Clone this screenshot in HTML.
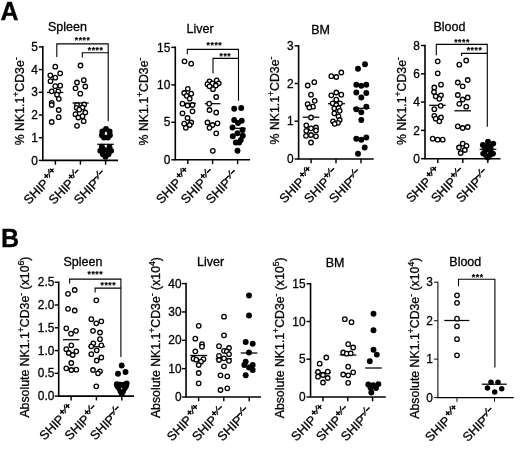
<!DOCTYPE html>
<html lang="en">
<head>
<meta charset="utf-8">
<title>NK cell frequencies in SHIP mice</title>
<style>html,body{margin:0;padding:0;background:#fff}svg{display:block;filter:blur(0.35px)}text{font-family:"Liberation Sans", Arial, Helvetica, sans-serif;stroke:#000;stroke-width:0.3px;paint-order:stroke}</style>
</head>
<body>
<svg width="520" height="450" viewBox="0 0 520 450" font-family='"Liberation Sans", Arial, Helvetica, sans-serif' fill="#000">
<rect width="520" height="450" fill="#fff"/>
<text x="0.6" y="20" font-size="25" font-weight="bold">A</text>
<text x="0.9" y="246.8" font-size="25" font-weight="bold">B</text>
<path d="M42.80 46.10V160.40H118.00" fill="none" stroke="#000" stroke-width="1.6" stroke-linejoin="miter"/>
<line x1="38.80" y1="46.90" x2="42.80" y2="46.90" stroke="#000" stroke-width="1.44"/>
<text x="37.75" y="51.01" font-size="11.9" text-anchor="end">5</text>
<line x1="38.80" y1="69.60" x2="42.80" y2="69.60" stroke="#000" stroke-width="1.44"/>
<text x="37.75" y="73.71" font-size="11.9" text-anchor="end">4</text>
<line x1="38.80" y1="92.30" x2="42.80" y2="92.30" stroke="#000" stroke-width="1.44"/>
<text x="37.75" y="96.41" font-size="11.9" text-anchor="end">3</text>
<line x1="38.80" y1="115.00" x2="42.80" y2="115.00" stroke="#000" stroke-width="1.44"/>
<text x="37.75" y="119.11" font-size="11.9" text-anchor="end">2</text>
<line x1="38.80" y1="137.70" x2="42.80" y2="137.70" stroke="#000" stroke-width="1.44"/>
<text x="37.75" y="141.81" font-size="11.9" text-anchor="end">1</text>
<line x1="38.80" y1="160.40" x2="42.80" y2="160.40" stroke="#000" stroke-width="1.44"/>
<text x="37.75" y="164.51" font-size="11.9" text-anchor="end">0</text>
<line x1="55.40" y1="160.40" x2="55.40" y2="164.70" stroke="#000" stroke-width="1.44"/>
<line x1="80.40" y1="160.40" x2="80.40" y2="164.70" stroke="#000" stroke-width="1.44"/>
<line x1="105.60" y1="160.40" x2="105.60" y2="164.70" stroke="#000" stroke-width="1.44"/>
<text x="67.5" y="30.5" font-size="12.5" text-anchor="middle">Spleen</text>
<text transform="translate(23.5 101.3) rotate(-90)" font-size="12.3" text-anchor="middle">% NK1.1<tspan font-size="8.61" dy="-4.8">+</tspan><tspan dy="4.8">CD3e</tspan><tspan font-size="8.61" dy="-4.8">-</tspan></text>
<line x1="47.0" y1="92.5" x2="63.3" y2="92.5" stroke="#000" stroke-width="1.25"/>
<line x1="72.5" y1="103.0" x2="88.7" y2="103.0" stroke="#000" stroke-width="1.25"/>
<circle cx="55.3" cy="66.7" r="2.25" fill="#fff" stroke="#000" stroke-width="1.3"/>
<circle cx="60.2" cy="73.3" r="2.25" fill="#fff" stroke="#000" stroke-width="1.3"/>
<circle cx="50.3" cy="75.3" r="2.25" fill="#fff" stroke="#000" stroke-width="1.3"/>
<circle cx="55.3" cy="77.7" r="2.25" fill="#fff" stroke="#000" stroke-width="1.3"/>
<circle cx="50.5" cy="81.2" r="2.25" fill="#fff" stroke="#000" stroke-width="1.3"/>
<circle cx="60.2" cy="85.7" r="2.25" fill="#fff" stroke="#000" stroke-width="1.3"/>
<circle cx="55.3" cy="86.2" r="2.25" fill="#fff" stroke="#000" stroke-width="1.3"/>
<circle cx="51.7" cy="91.3" r="2.25" fill="#fff" stroke="#000" stroke-width="1.3"/>
<circle cx="58.3" cy="91.3" r="2.25" fill="#fff" stroke="#000" stroke-width="1.3"/>
<circle cx="57.0" cy="94.7" r="2.25" fill="#fff" stroke="#000" stroke-width="1.3"/>
<circle cx="58.8" cy="98.8" r="2.25" fill="#fff" stroke="#000" stroke-width="1.3"/>
<circle cx="51.7" cy="102.8" r="2.25" fill="#fff" stroke="#000" stroke-width="1.3"/>
<circle cx="51.7" cy="105.0" r="2.25" fill="#fff" stroke="#000" stroke-width="1.3"/>
<circle cx="58.7" cy="110.0" r="2.25" fill="#fff" stroke="#000" stroke-width="1.3"/>
<circle cx="58.7" cy="117.2" r="2.25" fill="#fff" stroke="#000" stroke-width="1.3"/>
<circle cx="51.7" cy="122.0" r="2.25" fill="#fff" stroke="#000" stroke-width="1.3"/>
<circle cx="80.5" cy="65.5" r="2.25" fill="#fff" stroke="#000" stroke-width="1.3"/>
<circle cx="83.8" cy="80.2" r="2.25" fill="#fff" stroke="#000" stroke-width="1.3"/>
<circle cx="77.0" cy="82.5" r="2.25" fill="#fff" stroke="#000" stroke-width="1.3"/>
<circle cx="85.3" cy="86.5" r="2.25" fill="#fff" stroke="#000" stroke-width="1.3"/>
<circle cx="75.5" cy="88.3" r="2.25" fill="#fff" stroke="#000" stroke-width="1.3"/>
<circle cx="80.3" cy="93.7" r="2.25" fill="#fff" stroke="#000" stroke-width="1.3"/>
<circle cx="77.0" cy="105.0" r="2.25" fill="#fff" stroke="#000" stroke-width="1.3"/>
<circle cx="84.2" cy="104.5" r="2.25" fill="#fff" stroke="#000" stroke-width="1.3"/>
<circle cx="76.7" cy="107.8" r="2.25" fill="#fff" stroke="#000" stroke-width="1.3"/>
<circle cx="82.5" cy="107.5" r="2.25" fill="#fff" stroke="#000" stroke-width="1.3"/>
<circle cx="79.2" cy="109.7" r="2.25" fill="#fff" stroke="#000" stroke-width="1.3"/>
<circle cx="85.3" cy="112.5" r="2.25" fill="#fff" stroke="#000" stroke-width="1.3"/>
<circle cx="75.5" cy="114.2" r="2.25" fill="#fff" stroke="#000" stroke-width="1.3"/>
<circle cx="82.5" cy="116.2" r="2.25" fill="#fff" stroke="#000" stroke-width="1.3"/>
<circle cx="78.3" cy="117.5" r="2.25" fill="#fff" stroke="#000" stroke-width="1.3"/>
<circle cx="83.7" cy="121.2" r="2.25" fill="#fff" stroke="#000" stroke-width="1.3"/>
<circle cx="77.0" cy="125.8" r="2.25" fill="#fff" stroke="#000" stroke-width="1.3"/>
<circle cx="106.0" cy="128.9" r="2.95" fill="#000"/>
<circle cx="102.3" cy="131.4" r="2.95" fill="#000"/>
<circle cx="109.6" cy="131.4" r="2.95" fill="#000"/>
<circle cx="101.9" cy="135.3" r="2.95" fill="#000"/>
<circle cx="109.9" cy="135.3" r="2.95" fill="#000"/>
<circle cx="104.0" cy="137.5" r="2.95" fill="#000"/>
<circle cx="107.9" cy="137.5" r="2.95" fill="#000"/>
<circle cx="101.9" cy="146.6" r="2.95" fill="#000"/>
<circle cx="109.5" cy="147.1" r="2.95" fill="#000"/>
<circle cx="100.3" cy="150.7" r="2.95" fill="#000"/>
<circle cx="111.1" cy="150.7" r="2.95" fill="#000"/>
<circle cx="103.9" cy="149.7" r="2.95" fill="#000"/>
<circle cx="108.0" cy="150.7" r="2.95" fill="#000"/>
<circle cx="102.9" cy="154.3" r="2.95" fill="#000"/>
<circle cx="108.5" cy="154.3" r="2.95" fill="#000"/>
<circle cx="105.5" cy="156.8" r="2.95" fill="#000"/>
<circle cx="106" cy="133.6" r="0.7" fill="#fff"/>
<line x1="97.3" y1="144.3" x2="113.8" y2="144.3" stroke="#000" stroke-width="1.25"/>
<path d="M56.8 57.1V43.9H108.2V121.3" fill="none" stroke="#000" stroke-width="1.1"/>
<path d="M82.3 57.4V52.8H108.2" fill="none" stroke="#000" stroke-width="1.1"/>
<text x="82.6" y="42.7" font-size="8.6" font-weight="bold" text-anchor="middle" letter-spacing="0.55" style="stroke-width:0.2px">****</text>
<text x="95.6" y="53.2" font-size="8.6" font-weight="bold" text-anchor="middle" letter-spacing="0.55" style="stroke-width:0.2px">****</text>
<g transform="translate(49.55 184.25) rotate(-45)"><text font-size="12.6" text-anchor="end">SHIP</text><text x="0.90" y="-5.2" font-size="9.07" style="stroke-width:0.6px">+</text><text x="5.95" y="-4.2" font-size="10.89" style="stroke-width:0.35px" transform="rotate(22 7.46 -8.19)">/</text><text x="8.72" y="-5.2" font-size="9.07" style="stroke-width:0.6px">+</text></g>
<g transform="translate(74.55 184.25) rotate(-45)"><text font-size="12.6" text-anchor="end">SHIP</text><text x="0.00" y="-5.2" font-size="9.07" style="stroke-width:0.6px">+</text><text x="5.05" y="-4.2" font-size="10.89" style="stroke-width:0.35px" transform="rotate(22 6.56 -8.19)">/</text><text x="7.82" y="-4.6000000000000005" font-size="9.07" style="stroke-width:0.6px">−</text></g>
<g transform="translate(99.75 184.25) rotate(-45)"><text font-size="12.6" text-anchor="end">SHIP</text><text x="-1.60" y="-4.6000000000000005" font-size="9.07" style="stroke-width:0.6px">−</text><text x="3.45" y="-4.2" font-size="10.89" style="stroke-width:0.35px" transform="rotate(22 4.96 -8.19)">/</text><text x="6.22" y="-4.6000000000000005" font-size="9.07" style="stroke-width:0.6px">−</text></g>
<path d="M175.30 46.60V159.80H250.00" fill="none" stroke="#000" stroke-width="1.6" stroke-linejoin="miter"/>
<line x1="171.30" y1="47.40" x2="175.30" y2="47.40" stroke="#000" stroke-width="1.44"/>
<text x="170.25" y="51.51" font-size="11.9" text-anchor="end">15</text>
<line x1="171.30" y1="84.90" x2="175.30" y2="84.90" stroke="#000" stroke-width="1.44"/>
<text x="170.25" y="89.01" font-size="11.9" text-anchor="end">10</text>
<line x1="171.30" y1="122.30" x2="175.30" y2="122.30" stroke="#000" stroke-width="1.44"/>
<text x="170.25" y="126.41" font-size="11.9" text-anchor="end">5</text>
<line x1="171.30" y1="159.80" x2="175.30" y2="159.80" stroke="#000" stroke-width="1.44"/>
<text x="170.25" y="163.91" font-size="11.9" text-anchor="end">0</text>
<line x1="187.80" y1="159.80" x2="187.80" y2="164.10" stroke="#000" stroke-width="1.44"/>
<line x1="212.60" y1="159.80" x2="212.60" y2="164.10" stroke="#000" stroke-width="1.44"/>
<line x1="237.60" y1="159.80" x2="237.60" y2="164.10" stroke="#000" stroke-width="1.44"/>
<text x="200.0" y="33.2" font-size="12.5" text-anchor="middle">Liver</text>
<text transform="translate(148.0 101.5) rotate(-90)" font-size="12.3" text-anchor="middle">% NK1.1<tspan font-size="8.61" dy="-4.8">+</tspan><tspan dy="4.8">CD3e</tspan><tspan font-size="8.61" dy="-4.8">-</tspan></text>
<line x1="180.0" y1="103.3" x2="195.8" y2="103.3" stroke="#000" stroke-width="1.25"/>
<line x1="204.7" y1="103.7" x2="220.3" y2="103.7" stroke="#000" stroke-width="1.25"/>
<circle cx="184.5" cy="61.3" r="2.25" fill="#fff" stroke="#000" stroke-width="1.3"/>
<circle cx="191.2" cy="63.7" r="2.25" fill="#fff" stroke="#000" stroke-width="1.3"/>
<circle cx="187.8" cy="88.8" r="2.25" fill="#fff" stroke="#000" stroke-width="1.3"/>
<circle cx="184.2" cy="93.0" r="2.25" fill="#fff" stroke="#000" stroke-width="1.3"/>
<circle cx="191.2" cy="93.7" r="2.25" fill="#fff" stroke="#000" stroke-width="1.3"/>
<circle cx="186.7" cy="95.8" r="2.25" fill="#fff" stroke="#000" stroke-width="1.3"/>
<circle cx="189.7" cy="98.7" r="2.25" fill="#fff" stroke="#000" stroke-width="1.3"/>
<circle cx="182.5" cy="103.7" r="2.25" fill="#fff" stroke="#000" stroke-width="1.3"/>
<circle cx="187.5" cy="105.5" r="2.25" fill="#fff" stroke="#000" stroke-width="1.3"/>
<circle cx="192.5" cy="105.0" r="2.25" fill="#fff" stroke="#000" stroke-width="1.3"/>
<circle cx="192.5" cy="111.3" r="2.25" fill="#fff" stroke="#000" stroke-width="1.3"/>
<circle cx="182.5" cy="113.3" r="2.25" fill="#fff" stroke="#000" stroke-width="1.3"/>
<circle cx="187.5" cy="118.0" r="2.25" fill="#fff" stroke="#000" stroke-width="1.3"/>
<circle cx="191.2" cy="122.5" r="2.25" fill="#fff" stroke="#000" stroke-width="1.3"/>
<circle cx="184.2" cy="123.7" r="2.25" fill="#fff" stroke="#000" stroke-width="1.3"/>
<circle cx="189.7" cy="125.0" r="2.25" fill="#fff" stroke="#000" stroke-width="1.3"/>
<circle cx="185.8" cy="127.8" r="2.25" fill="#fff" stroke="#000" stroke-width="1.3"/>
<circle cx="209.5" cy="81.3" r="2.25" fill="#fff" stroke="#000" stroke-width="1.3"/>
<circle cx="216.7" cy="80.3" r="2.25" fill="#fff" stroke="#000" stroke-width="1.3"/>
<circle cx="207.5" cy="84.2" r="2.25" fill="#fff" stroke="#000" stroke-width="1.3"/>
<circle cx="218.8" cy="83.3" r="2.25" fill="#fff" stroke="#000" stroke-width="1.3"/>
<circle cx="212.5" cy="83.3" r="2.25" fill="#fff" stroke="#000" stroke-width="1.3"/>
<circle cx="209.5" cy="86.3" r="2.25" fill="#fff" stroke="#000" stroke-width="1.3"/>
<circle cx="215.8" cy="85.5" r="2.25" fill="#fff" stroke="#000" stroke-width="1.3"/>
<circle cx="213.0" cy="89.2" r="2.25" fill="#fff" stroke="#000" stroke-width="1.3"/>
<circle cx="216.2" cy="97.0" r="2.25" fill="#fff" stroke="#000" stroke-width="1.3"/>
<circle cx="209.2" cy="103.7" r="2.25" fill="#fff" stroke="#000" stroke-width="1.3"/>
<circle cx="209.5" cy="110.0" r="2.25" fill="#fff" stroke="#000" stroke-width="1.3"/>
<circle cx="216.2" cy="112.5" r="2.25" fill="#fff" stroke="#000" stroke-width="1.3"/>
<circle cx="207.5" cy="122.5" r="2.25" fill="#fff" stroke="#000" stroke-width="1.3"/>
<circle cx="217.5" cy="123.3" r="2.25" fill="#fff" stroke="#000" stroke-width="1.3"/>
<circle cx="212.5" cy="125.0" r="2.25" fill="#fff" stroke="#000" stroke-width="1.3"/>
<circle cx="209.5" cy="127.8" r="2.25" fill="#fff" stroke="#000" stroke-width="1.3"/>
<circle cx="216.2" cy="133.3" r="2.25" fill="#fff" stroke="#000" stroke-width="1.3"/>
<circle cx="212.8" cy="150.8" r="2.25" fill="#fff" stroke="#000" stroke-width="1.3"/>
<circle cx="234.2" cy="108.7" r="2.95" fill="#000"/>
<circle cx="241.2" cy="108.0" r="2.95" fill="#000"/>
<circle cx="234.2" cy="120.0" r="2.95" fill="#000"/>
<circle cx="241.7" cy="120.8" r="2.95" fill="#000"/>
<circle cx="238.0" cy="123.0" r="2.95" fill="#000"/>
<circle cx="232.5" cy="127.5" r="2.95" fill="#000"/>
<circle cx="242.5" cy="130.0" r="2.95" fill="#000"/>
<circle cx="237.5" cy="133.3" r="2.95" fill="#000"/>
<circle cx="232.8" cy="136.3" r="2.95" fill="#000"/>
<circle cx="242.8" cy="135.8" r="2.95" fill="#000"/>
<circle cx="240.8" cy="140.0" r="2.95" fill="#000"/>
<circle cx="235.8" cy="142.5" r="2.95" fill="#000"/>
<circle cx="239.2" cy="142.5" r="2.95" fill="#000"/>
<circle cx="237.5" cy="150.8" r="2.95" fill="#000"/>
<line x1="230.8" y1="128.3" x2="245.8" y2="128.3" stroke="#000" stroke-width="1.25"/>
<path d="M187.3 54.2V49.4H238.5V100.8" fill="none" stroke="#000" stroke-width="1.1"/>
<path d="M213.0 73.5V58.4H238.5" fill="none" stroke="#000" stroke-width="1.1"/>
<text x="214.4" y="47.5" font-size="8.6" font-weight="bold" text-anchor="middle" letter-spacing="0.55" style="stroke-width:0.2px">****</text>
<text x="225.4" y="59.3" font-size="8.6" font-weight="bold" text-anchor="middle" letter-spacing="0.55" style="stroke-width:0.2px">***</text>
<g transform="translate(181.95 183.65) rotate(-45)"><text font-size="12.6" text-anchor="end">SHIP</text><text x="0.90" y="-5.2" font-size="9.07" style="stroke-width:0.6px">+</text><text x="5.95" y="-4.2" font-size="10.89" style="stroke-width:0.35px" transform="rotate(22 7.46 -8.19)">/</text><text x="8.72" y="-5.2" font-size="9.07" style="stroke-width:0.6px">+</text></g>
<g transform="translate(206.75 183.65) rotate(-45)"><text font-size="12.6" text-anchor="end">SHIP</text><text x="0.00" y="-5.2" font-size="9.07" style="stroke-width:0.6px">+</text><text x="5.05" y="-4.2" font-size="10.89" style="stroke-width:0.35px" transform="rotate(22 6.56 -8.19)">/</text><text x="7.82" y="-4.6000000000000005" font-size="9.07" style="stroke-width:0.6px">−</text></g>
<g transform="translate(231.75 183.65) rotate(-45)"><text font-size="12.6" text-anchor="end">SHIP</text><text x="-1.60" y="-4.6000000000000005" font-size="9.07" style="stroke-width:0.6px">−</text><text x="3.45" y="-4.2" font-size="10.89" style="stroke-width:0.35px" transform="rotate(22 4.96 -8.19)">/</text><text x="6.22" y="-4.6000000000000005" font-size="9.07" style="stroke-width:0.6px">−</text></g>
<path d="M298.60 45.00V159.00H373.70" fill="none" stroke="#000" stroke-width="1.6" stroke-linejoin="miter"/>
<line x1="294.60" y1="45.80" x2="298.60" y2="45.80" stroke="#000" stroke-width="1.44"/>
<text x="293.55" y="49.91" font-size="11.9" text-anchor="end">3</text>
<line x1="294.60" y1="83.50" x2="298.60" y2="83.50" stroke="#000" stroke-width="1.44"/>
<text x="293.55" y="87.61" font-size="11.9" text-anchor="end">2</text>
<line x1="294.60" y1="121.20" x2="298.60" y2="121.20" stroke="#000" stroke-width="1.44"/>
<text x="293.55" y="125.31" font-size="11.9" text-anchor="end">1</text>
<line x1="294.60" y1="159.00" x2="298.60" y2="159.00" stroke="#000" stroke-width="1.44"/>
<text x="293.55" y="163.11" font-size="11.9" text-anchor="end">0</text>
<line x1="311.10" y1="159.00" x2="311.10" y2="163.30" stroke="#000" stroke-width="1.44"/>
<line x1="336.00" y1="159.00" x2="336.00" y2="163.30" stroke="#000" stroke-width="1.44"/>
<line x1="361.00" y1="159.00" x2="361.00" y2="163.30" stroke="#000" stroke-width="1.44"/>
<text x="320.5" y="33.6" font-size="12.5" text-anchor="middle">BM</text>
<text transform="translate(279.2 100.5) rotate(-90)" font-size="12.3" text-anchor="middle">% NK1.1<tspan font-size="8.61" dy="-4.8">+</tspan><tspan dy="4.8">CD3e</tspan><tspan font-size="8.61" dy="-4.8">-</tspan></text>
<line x1="302.7" y1="117.2" x2="319.3" y2="117.2" stroke="#000" stroke-width="1.25"/>
<line x1="328.0" y1="103.7" x2="345.0" y2="103.7" stroke="#000" stroke-width="1.25"/>
<line x1="353.0" y1="108.3" x2="369.7" y2="108.3" stroke="#000" stroke-width="1.25"/>
<circle cx="314.3" cy="82.2" r="2.25" fill="#fff" stroke="#000" stroke-width="1.3"/>
<circle cx="307.7" cy="85.5" r="2.25" fill="#fff" stroke="#000" stroke-width="1.3"/>
<circle cx="311.0" cy="94.7" r="2.25" fill="#fff" stroke="#000" stroke-width="1.3"/>
<circle cx="314.7" cy="100.8" r="2.25" fill="#fff" stroke="#000" stroke-width="1.3"/>
<circle cx="307.7" cy="104.2" r="2.25" fill="#fff" stroke="#000" stroke-width="1.3"/>
<circle cx="313.0" cy="106.7" r="2.25" fill="#fff" stroke="#000" stroke-width="1.3"/>
<circle cx="309.3" cy="107.5" r="2.25" fill="#fff" stroke="#000" stroke-width="1.3"/>
<circle cx="311.0" cy="117.5" r="2.25" fill="#fff" stroke="#000" stroke-width="1.3"/>
<circle cx="306.3" cy="125.3" r="2.25" fill="#fff" stroke="#000" stroke-width="1.3"/>
<circle cx="316.0" cy="127.5" r="2.25" fill="#fff" stroke="#000" stroke-width="1.3"/>
<circle cx="311.0" cy="128.3" r="2.25" fill="#fff" stroke="#000" stroke-width="1.3"/>
<circle cx="316.0" cy="130.5" r="2.25" fill="#fff" stroke="#000" stroke-width="1.3"/>
<circle cx="306.3" cy="130.8" r="2.25" fill="#fff" stroke="#000" stroke-width="1.3"/>
<circle cx="311.0" cy="135.0" r="2.25" fill="#fff" stroke="#000" stroke-width="1.3"/>
<circle cx="306.0" cy="135.8" r="2.25" fill="#fff" stroke="#000" stroke-width="1.3"/>
<circle cx="316.0" cy="136.3" r="2.25" fill="#fff" stroke="#000" stroke-width="1.3"/>
<circle cx="311.0" cy="142.5" r="2.25" fill="#fff" stroke="#000" stroke-width="1.3"/>
<circle cx="341.3" cy="72.5" r="2.25" fill="#fff" stroke="#000" stroke-width="1.3"/>
<circle cx="331.3" cy="76.2" r="2.25" fill="#fff" stroke="#000" stroke-width="1.3"/>
<circle cx="336.3" cy="77.0" r="2.25" fill="#fff" stroke="#000" stroke-width="1.3"/>
<circle cx="336.3" cy="92.5" r="2.25" fill="#fff" stroke="#000" stroke-width="1.3"/>
<circle cx="331.3" cy="95.3" r="2.25" fill="#fff" stroke="#000" stroke-width="1.3"/>
<circle cx="341.3" cy="94.7" r="2.25" fill="#fff" stroke="#000" stroke-width="1.3"/>
<circle cx="336.3" cy="99.7" r="2.25" fill="#fff" stroke="#000" stroke-width="1.3"/>
<circle cx="332.7" cy="103.3" r="2.25" fill="#fff" stroke="#000" stroke-width="1.3"/>
<circle cx="340.0" cy="103.3" r="2.25" fill="#fff" stroke="#000" stroke-width="1.3"/>
<circle cx="336.3" cy="105.0" r="2.25" fill="#fff" stroke="#000" stroke-width="1.3"/>
<circle cx="334.3" cy="108.3" r="2.25" fill="#fff" stroke="#000" stroke-width="1.3"/>
<circle cx="338.5" cy="108.0" r="2.25" fill="#fff" stroke="#000" stroke-width="1.3"/>
<circle cx="339.7" cy="110.8" r="2.25" fill="#fff" stroke="#000" stroke-width="1.3"/>
<circle cx="334.3" cy="113.3" r="2.25" fill="#fff" stroke="#000" stroke-width="1.3"/>
<circle cx="338.5" cy="116.3" r="2.25" fill="#fff" stroke="#000" stroke-width="1.3"/>
<circle cx="339.7" cy="120.0" r="2.25" fill="#fff" stroke="#000" stroke-width="1.3"/>
<circle cx="333.0" cy="121.3" r="2.25" fill="#fff" stroke="#000" stroke-width="1.3"/>
<circle cx="338.0" cy="122.8" r="2.25" fill="#fff" stroke="#000" stroke-width="1.3"/>
<circle cx="334.7" cy="123.8" r="2.25" fill="#fff" stroke="#000" stroke-width="1.3"/>
<circle cx="365.0" cy="64.2" r="2.95" fill="#000"/>
<circle cx="358.0" cy="68.8" r="2.95" fill="#000"/>
<circle cx="356.3" cy="84.7" r="2.95" fill="#000"/>
<circle cx="361.3" cy="85.8" r="2.95" fill="#000"/>
<circle cx="366.3" cy="84.7" r="2.95" fill="#000"/>
<circle cx="356.3" cy="92.5" r="2.95" fill="#000"/>
<circle cx="366.3" cy="93.0" r="2.95" fill="#000"/>
<circle cx="361.3" cy="97.5" r="2.95" fill="#000"/>
<circle cx="366.3" cy="106.7" r="2.95" fill="#000"/>
<circle cx="356.3" cy="109.2" r="2.95" fill="#000"/>
<circle cx="361.3" cy="112.2" r="2.95" fill="#000"/>
<circle cx="361.3" cy="120.0" r="2.95" fill="#000"/>
<circle cx="356.3" cy="138.7" r="2.95" fill="#000"/>
<circle cx="366.3" cy="137.5" r="2.95" fill="#000"/>
<circle cx="361.3" cy="139.7" r="2.95" fill="#000"/>
<circle cx="364.7" cy="147.5" r="2.95" fill="#000"/>
<circle cx="358.0" cy="153.8" r="2.95" fill="#000"/>
<g transform="translate(305.25 182.85) rotate(-45)"><text font-size="12.6" text-anchor="end">SHIP</text><text x="0.90" y="-5.2" font-size="9.07" style="stroke-width:0.6px">+</text><text x="5.95" y="-4.2" font-size="10.89" style="stroke-width:0.35px" transform="rotate(22 7.46 -8.19)">/</text><text x="8.72" y="-5.2" font-size="9.07" style="stroke-width:0.6px">+</text></g>
<g transform="translate(330.15 182.85) rotate(-45)"><text font-size="12.6" text-anchor="end">SHIP</text><text x="0.00" y="-5.2" font-size="9.07" style="stroke-width:0.6px">+</text><text x="5.05" y="-4.2" font-size="10.89" style="stroke-width:0.35px" transform="rotate(22 6.56 -8.19)">/</text><text x="7.82" y="-4.6000000000000005" font-size="9.07" style="stroke-width:0.6px">−</text></g>
<g transform="translate(355.15 182.85) rotate(-45)"><text font-size="12.6" text-anchor="end">SHIP</text><text x="-1.60" y="-4.6000000000000005" font-size="9.07" style="stroke-width:0.6px">−</text><text x="3.45" y="-4.2" font-size="10.89" style="stroke-width:0.35px" transform="rotate(22 4.96 -8.19)">/</text><text x="6.22" y="-4.6000000000000005" font-size="9.07" style="stroke-width:0.6px">−</text></g>
<path d="M425.00 44.70V158.70H500.50" fill="none" stroke="#000" stroke-width="1.6" stroke-linejoin="miter"/>
<line x1="421.00" y1="45.50" x2="425.00" y2="45.50" stroke="#000" stroke-width="1.44"/>
<text x="419.95" y="49.61" font-size="11.9" text-anchor="end">8</text>
<line x1="421.00" y1="73.80" x2="425.00" y2="73.80" stroke="#000" stroke-width="1.44"/>
<text x="419.95" y="77.91" font-size="11.9" text-anchor="end">6</text>
<line x1="421.00" y1="102.10" x2="425.00" y2="102.10" stroke="#000" stroke-width="1.44"/>
<text x="419.95" y="106.21" font-size="11.9" text-anchor="end">4</text>
<line x1="421.00" y1="130.40" x2="425.00" y2="130.40" stroke="#000" stroke-width="1.44"/>
<text x="419.95" y="134.51" font-size="11.9" text-anchor="end">2</text>
<line x1="421.00" y1="158.70" x2="425.00" y2="158.70" stroke="#000" stroke-width="1.44"/>
<text x="419.95" y="162.81" font-size="11.9" text-anchor="end">0</text>
<line x1="437.80" y1="158.70" x2="437.80" y2="163.00" stroke="#000" stroke-width="1.44"/>
<line x1="462.80" y1="158.70" x2="462.80" y2="163.00" stroke="#000" stroke-width="1.44"/>
<line x1="487.80" y1="158.70" x2="487.80" y2="163.00" stroke="#000" stroke-width="1.44"/>
<text x="449.5" y="31.2" font-size="12.5" text-anchor="middle">Blood</text>
<text transform="translate(405.9 101.0) rotate(-90)" font-size="12.3" text-anchor="middle">% NK1.1<tspan font-size="8.61" dy="-4.8">+</tspan><tspan dy="4.8">CD3e</tspan><tspan font-size="8.61" dy="-4.8">-</tspan></text>
<line x1="429.3" y1="105.3" x2="445.7" y2="105.3" stroke="#000" stroke-width="1.25"/>
<line x1="454.3" y1="110.8" x2="471.0" y2="110.8" stroke="#000" stroke-width="1.25"/>
<circle cx="437.7" cy="61.3" r="2.25" fill="#fff" stroke="#000" stroke-width="1.3"/>
<circle cx="437.7" cy="73.3" r="2.25" fill="#fff" stroke="#000" stroke-width="1.3"/>
<circle cx="441.0" cy="84.7" r="2.25" fill="#fff" stroke="#000" stroke-width="1.3"/>
<circle cx="434.3" cy="87.5" r="2.25" fill="#fff" stroke="#000" stroke-width="1.3"/>
<circle cx="434.0" cy="92.0" r="2.25" fill="#fff" stroke="#000" stroke-width="1.3"/>
<circle cx="441.0" cy="95.3" r="2.25" fill="#fff" stroke="#000" stroke-width="1.3"/>
<circle cx="435.7" cy="96.3" r="2.25" fill="#fff" stroke="#000" stroke-width="1.3"/>
<circle cx="439.3" cy="98.8" r="2.25" fill="#fff" stroke="#000" stroke-width="1.3"/>
<circle cx="440.7" cy="105.8" r="2.25" fill="#fff" stroke="#000" stroke-width="1.3"/>
<circle cx="434.3" cy="109.2" r="2.25" fill="#fff" stroke="#000" stroke-width="1.3"/>
<circle cx="434.3" cy="115.8" r="2.25" fill="#fff" stroke="#000" stroke-width="1.3"/>
<circle cx="441.0" cy="117.5" r="2.25" fill="#fff" stroke="#000" stroke-width="1.3"/>
<circle cx="435.7" cy="118.7" r="2.25" fill="#fff" stroke="#000" stroke-width="1.3"/>
<circle cx="439.3" cy="121.3" r="2.25" fill="#fff" stroke="#000" stroke-width="1.3"/>
<circle cx="432.7" cy="138.7" r="2.25" fill="#fff" stroke="#000" stroke-width="1.3"/>
<circle cx="437.7" cy="139.7" r="2.25" fill="#fff" stroke="#000" stroke-width="1.3"/>
<circle cx="442.7" cy="139.7" r="2.25" fill="#fff" stroke="#000" stroke-width="1.3"/>
<circle cx="466.2" cy="60.5" r="2.25" fill="#fff" stroke="#000" stroke-width="1.3"/>
<circle cx="459.3" cy="64.7" r="2.25" fill="#fff" stroke="#000" stroke-width="1.3"/>
<circle cx="467.7" cy="80.0" r="2.25" fill="#fff" stroke="#000" stroke-width="1.3"/>
<circle cx="457.8" cy="82.5" r="2.25" fill="#fff" stroke="#000" stroke-width="1.3"/>
<circle cx="462.7" cy="86.3" r="2.25" fill="#fff" stroke="#000" stroke-width="1.3"/>
<circle cx="457.8" cy="95.0" r="2.25" fill="#fff" stroke="#000" stroke-width="1.3"/>
<circle cx="467.7" cy="97.5" r="2.25" fill="#fff" stroke="#000" stroke-width="1.3"/>
<circle cx="462.7" cy="99.5" r="2.25" fill="#fff" stroke="#000" stroke-width="1.3"/>
<circle cx="459.3" cy="103.8" r="2.25" fill="#fff" stroke="#000" stroke-width="1.3"/>
<circle cx="466.2" cy="106.7" r="2.25" fill="#fff" stroke="#000" stroke-width="1.3"/>
<circle cx="457.8" cy="126.3" r="2.25" fill="#fff" stroke="#000" stroke-width="1.3"/>
<circle cx="462.7" cy="128.0" r="2.25" fill="#fff" stroke="#000" stroke-width="1.3"/>
<circle cx="467.7" cy="127.0" r="2.25" fill="#fff" stroke="#000" stroke-width="1.3"/>
<circle cx="462.7" cy="143.7" r="2.25" fill="#fff" stroke="#000" stroke-width="1.3"/>
<circle cx="459.0" cy="147.5" r="2.25" fill="#fff" stroke="#000" stroke-width="1.3"/>
<circle cx="466.5" cy="145.8" r="2.25" fill="#fff" stroke="#000" stroke-width="1.3"/>
<circle cx="464.8" cy="150.0" r="2.25" fill="#fff" stroke="#000" stroke-width="1.3"/>
<circle cx="460.7" cy="153.0" r="2.25" fill="#fff" stroke="#000" stroke-width="1.3"/>
<circle cx="488.0" cy="141.7" r="2.95" fill="#000"/>
<circle cx="482.9" cy="145.0" r="2.95" fill="#000"/>
<circle cx="493.2" cy="143.6" r="2.95" fill="#000"/>
<circle cx="487.5" cy="146.5" r="2.95" fill="#000"/>
<circle cx="490.5" cy="147.0" r="2.95" fill="#000"/>
<circle cx="485.0" cy="149.3" r="2.95" fill="#000"/>
<circle cx="490.6" cy="149.6" r="2.95" fill="#000"/>
<circle cx="487.8" cy="150.5" r="2.95" fill="#000"/>
<circle cx="483.2" cy="153.6" r="2.95" fill="#000"/>
<circle cx="493.0" cy="153.6" r="2.95" fill="#000"/>
<circle cx="485.8" cy="155.0" r="2.95" fill="#000"/>
<circle cx="490.0" cy="155.0" r="2.95" fill="#000"/>
<circle cx="487.8" cy="157.6" r="2.95" fill="#000"/>
<line x1="479.6" y1="149.3" x2="496.4" y2="149.3" stroke="#000" stroke-width="1.25"/>
<circle cx="487.7" cy="152.8" r="0.6" fill="#fff"/>
<path d="M436.3 55.3V44.4H487.3V126.7" fill="none" stroke="#000" stroke-width="1.1"/>
<path d="M461.6 56.1V53.4H487.3" fill="none" stroke="#000" stroke-width="1.1"/>
<text x="462.0" y="44.5" font-size="8.6" font-weight="bold" text-anchor="middle" letter-spacing="0.55" style="stroke-width:0.2px">****</text>
<text x="474.5" y="53.2" font-size="8.6" font-weight="bold" text-anchor="middle" letter-spacing="0.55" style="stroke-width:0.2px">****</text>
<g transform="translate(431.95 182.55) rotate(-45)"><text font-size="12.6" text-anchor="end">SHIP</text><text x="0.90" y="-5.2" font-size="9.07" style="stroke-width:0.6px">+</text><text x="5.95" y="-4.2" font-size="10.89" style="stroke-width:0.35px" transform="rotate(22 7.46 -8.19)">/</text><text x="8.72" y="-5.2" font-size="9.07" style="stroke-width:0.6px">+</text></g>
<g transform="translate(456.95 182.55) rotate(-45)"><text font-size="12.6" text-anchor="end">SHIP</text><text x="0.00" y="-5.2" font-size="9.07" style="stroke-width:0.6px">+</text><text x="5.05" y="-4.2" font-size="10.89" style="stroke-width:0.35px" transform="rotate(22 6.56 -8.19)">/</text><text x="7.82" y="-4.6000000000000005" font-size="9.07" style="stroke-width:0.6px">−</text></g>
<g transform="translate(481.95 182.55) rotate(-45)"><text font-size="12.6" text-anchor="end">SHIP</text><text x="-1.60" y="-4.6000000000000005" font-size="9.07" style="stroke-width:0.6px">−</text><text x="3.45" y="-4.2" font-size="10.89" style="stroke-width:0.35px" transform="rotate(22 4.96 -8.19)">/</text><text x="6.22" y="-4.6000000000000005" font-size="9.07" style="stroke-width:0.6px">−</text></g>
<path d="M58.70 281.50V396.10H134.00" fill="none" stroke="#000" stroke-width="1.6" stroke-linejoin="miter"/>
<line x1="54.70" y1="282.30" x2="58.70" y2="282.30" stroke="#000" stroke-width="1.44"/>
<text x="54.35" y="286.41" font-size="11.9" text-anchor="end">2.5</text>
<line x1="54.70" y1="305.00" x2="58.70" y2="305.00" stroke="#000" stroke-width="1.44"/>
<text x="54.35" y="309.11" font-size="11.9" text-anchor="end">2.0</text>
<line x1="54.70" y1="327.80" x2="58.70" y2="327.80" stroke="#000" stroke-width="1.44"/>
<text x="54.35" y="331.91" font-size="11.9" text-anchor="end">1.5</text>
<line x1="54.70" y1="350.60" x2="58.70" y2="350.60" stroke="#000" stroke-width="1.44"/>
<text x="54.35" y="354.71" font-size="11.9" text-anchor="end">1.0</text>
<line x1="54.70" y1="373.30" x2="58.70" y2="373.30" stroke="#000" stroke-width="1.44"/>
<text x="54.35" y="377.41" font-size="11.9" text-anchor="end">0.5</text>
<line x1="54.70" y1="396.10" x2="58.70" y2="396.10" stroke="#000" stroke-width="1.44"/>
<text x="54.35" y="400.21" font-size="11.9" text-anchor="end">0.0</text>
<line x1="71.10" y1="396.10" x2="71.10" y2="400.40" stroke="#000" stroke-width="1.44"/>
<line x1="96.40" y1="396.10" x2="96.40" y2="400.40" stroke="#000" stroke-width="1.44"/>
<line x1="121.80" y1="396.10" x2="121.80" y2="400.40" stroke="#000" stroke-width="1.44"/>
<text x="83.0" y="265.8" font-size="12.5" text-anchor="middle">Spleen</text>
<text transform="translate(28.7 337.1) rotate(-90)" font-size="12.3" text-anchor="middle">Absolute NK1.1<tspan font-size="8.61" dy="-4.8">+</tspan><tspan dy="4.8">CD3e</tspan><tspan font-size="8.61" dy="-4.8">-</tspan><tspan dy="4.8"> (x10</tspan><tspan font-size="8.61" dy="-4.8">6</tspan><tspan dy="4.8">)</tspan></text>
<line x1="63.0" y1="339.7" x2="79.3" y2="339.7" stroke="#000" stroke-width="1.25"/>
<line x1="88.3" y1="346.7" x2="105.0" y2="346.7" stroke="#000" stroke-width="1.25"/>
<circle cx="74.7" cy="290.0" r="2.25" fill="#fff" stroke="#000" stroke-width="1.3"/>
<circle cx="68.0" cy="293.8" r="2.25" fill="#fff" stroke="#000" stroke-width="1.3"/>
<circle cx="68.0" cy="308.8" r="2.25" fill="#fff" stroke="#000" stroke-width="1.3"/>
<circle cx="74.7" cy="310.5" r="2.25" fill="#fff" stroke="#000" stroke-width="1.3"/>
<circle cx="66.3" cy="328.3" r="2.25" fill="#fff" stroke="#000" stroke-width="1.3"/>
<circle cx="76.0" cy="330.8" r="2.25" fill="#fff" stroke="#000" stroke-width="1.3"/>
<circle cx="71.0" cy="333.7" r="2.25" fill="#fff" stroke="#000" stroke-width="1.3"/>
<circle cx="71.3" cy="345.3" r="2.25" fill="#fff" stroke="#000" stroke-width="1.3"/>
<circle cx="66.3" cy="349.2" r="2.25" fill="#fff" stroke="#000" stroke-width="1.3"/>
<circle cx="76.3" cy="351.3" r="2.25" fill="#fff" stroke="#000" stroke-width="1.3"/>
<circle cx="68.8" cy="353.0" r="2.25" fill="#fff" stroke="#000" stroke-width="1.3"/>
<circle cx="72.7" cy="355.0" r="2.25" fill="#fff" stroke="#000" stroke-width="1.3"/>
<circle cx="71.3" cy="363.0" r="2.25" fill="#fff" stroke="#000" stroke-width="1.3"/>
<circle cx="66.3" cy="368.3" r="2.25" fill="#fff" stroke="#000" stroke-width="1.3"/>
<circle cx="71.3" cy="370.0" r="2.25" fill="#fff" stroke="#000" stroke-width="1.3"/>
<circle cx="76.3" cy="369.7" r="2.25" fill="#fff" stroke="#000" stroke-width="1.3"/>
<circle cx="96.3" cy="300.3" r="2.25" fill="#fff" stroke="#000" stroke-width="1.3"/>
<circle cx="91.3" cy="319.2" r="2.25" fill="#fff" stroke="#000" stroke-width="1.3"/>
<circle cx="101.3" cy="321.3" r="2.25" fill="#fff" stroke="#000" stroke-width="1.3"/>
<circle cx="96.3" cy="323.3" r="2.25" fill="#fff" stroke="#000" stroke-width="1.3"/>
<circle cx="93.0" cy="330.8" r="2.25" fill="#fff" stroke="#000" stroke-width="1.3"/>
<circle cx="100.0" cy="332.5" r="2.25" fill="#fff" stroke="#000" stroke-width="1.3"/>
<circle cx="100.0" cy="339.2" r="2.25" fill="#fff" stroke="#000" stroke-width="1.3"/>
<circle cx="93.3" cy="343.3" r="2.25" fill="#fff" stroke="#000" stroke-width="1.3"/>
<circle cx="101.3" cy="345.3" r="2.25" fill="#fff" stroke="#000" stroke-width="1.3"/>
<circle cx="91.3" cy="346.3" r="2.25" fill="#fff" stroke="#000" stroke-width="1.3"/>
<circle cx="96.7" cy="350.3" r="2.25" fill="#fff" stroke="#000" stroke-width="1.3"/>
<circle cx="91.3" cy="354.2" r="2.25" fill="#fff" stroke="#000" stroke-width="1.3"/>
<circle cx="101.3" cy="357.5" r="2.25" fill="#fff" stroke="#000" stroke-width="1.3"/>
<circle cx="96.7" cy="360.5" r="2.25" fill="#fff" stroke="#000" stroke-width="1.3"/>
<circle cx="93.0" cy="370.0" r="2.25" fill="#fff" stroke="#000" stroke-width="1.3"/>
<circle cx="100.0" cy="371.3" r="2.25" fill="#fff" stroke="#000" stroke-width="1.3"/>
<circle cx="98.0" cy="373.3" r="2.25" fill="#fff" stroke="#000" stroke-width="1.3"/>
<circle cx="96.3" cy="386.3" r="2.25" fill="#fff" stroke="#000" stroke-width="1.3"/>
<circle cx="121.7" cy="365.5" r="2.95" fill="#000"/>
<circle cx="118.0" cy="373.7" r="2.95" fill="#000"/>
<circle cx="125.5" cy="372.0" r="2.95" fill="#000"/>
<circle cx="116.8" cy="384.2" r="2.95" fill="#000"/>
<circle cx="126.7" cy="383.4" r="2.95" fill="#000"/>
<circle cx="120.0" cy="384.8" r="2.95" fill="#000"/>
<circle cx="123.6" cy="384.6" r="2.95" fill="#000"/>
<circle cx="117.5" cy="386.3" r="2.95" fill="#000"/>
<circle cx="126.0" cy="386.0" r="2.95" fill="#000"/>
<circle cx="121.8" cy="386.5" r="2.95" fill="#000"/>
<circle cx="119.2" cy="388.5" r="2.95" fill="#000"/>
<circle cx="124.6" cy="388.3" r="2.95" fill="#000"/>
<circle cx="121.8" cy="390.0" r="2.95" fill="#000"/>
<circle cx="120.6" cy="391.5" r="2.95" fill="#000"/>
<circle cx="123.0" cy="391.5" r="2.95" fill="#000"/>
<circle cx="121.8" cy="393.5" r="2.95" fill="#000"/>
<circle cx="121.8" cy="388.5" r="0.65" fill="#fff"/>
<path d="M69.6 283.6V279.1H120.9V357.0" fill="none" stroke="#000" stroke-width="1.1"/>
<path d="M95.1 292.5V288.1H120.9" fill="none" stroke="#000" stroke-width="1.1"/>
<text x="95.3" y="277.4" font-size="8.6" font-weight="bold" text-anchor="middle" letter-spacing="0.55" style="stroke-width:0.2px">****</text>
<text x="108.3" y="288.1" font-size="8.6" font-weight="bold" text-anchor="middle" letter-spacing="0.55" style="stroke-width:0.2px">****</text>
<g transform="translate(65.25 419.95) rotate(-45)"><text font-size="12.6" text-anchor="end">SHIP</text><text x="0.90" y="-5.2" font-size="9.07" style="stroke-width:0.6px">+</text><text x="5.95" y="-4.2" font-size="10.89" style="stroke-width:0.35px" transform="rotate(22 7.46 -8.19)">/</text><text x="8.72" y="-5.2" font-size="9.07" style="stroke-width:0.6px">+</text></g>
<g transform="translate(90.55 419.95) rotate(-45)"><text font-size="12.6" text-anchor="end">SHIP</text><text x="0.00" y="-5.2" font-size="9.07" style="stroke-width:0.6px">+</text><text x="5.05" y="-4.2" font-size="10.89" style="stroke-width:0.35px" transform="rotate(22 6.56 -8.19)">/</text><text x="7.82" y="-4.6000000000000005" font-size="9.07" style="stroke-width:0.6px">−</text></g>
<g transform="translate(115.95 419.95) rotate(-45)"><text font-size="12.6" text-anchor="end">SHIP</text><text x="-1.60" y="-4.6000000000000005" font-size="9.07" style="stroke-width:0.6px">−</text><text x="3.45" y="-4.2" font-size="10.89" style="stroke-width:0.35px" transform="rotate(22 4.96 -8.19)">/</text><text x="6.22" y="-4.6000000000000005" font-size="9.07" style="stroke-width:0.6px">−</text></g>
<path d="M186.05 282.80V397.00H261.00" fill="none" stroke="#000" stroke-width="1.6" stroke-linejoin="miter"/>
<line x1="182.05" y1="283.60" x2="186.05" y2="283.60" stroke="#000" stroke-width="1.44"/>
<text x="181.50" y="287.71" font-size="11.9" text-anchor="end">40</text>
<line x1="182.05" y1="311.95" x2="186.05" y2="311.95" stroke="#000" stroke-width="1.44"/>
<text x="181.50" y="316.06" font-size="11.9" text-anchor="end">30</text>
<line x1="182.05" y1="340.30" x2="186.05" y2="340.30" stroke="#000" stroke-width="1.44"/>
<text x="181.50" y="344.41" font-size="11.9" text-anchor="end">20</text>
<line x1="182.05" y1="368.65" x2="186.05" y2="368.65" stroke="#000" stroke-width="1.44"/>
<text x="181.50" y="372.76" font-size="11.9" text-anchor="end">10</text>
<line x1="182.05" y1="397.00" x2="186.05" y2="397.00" stroke="#000" stroke-width="1.44"/>
<text x="181.50" y="401.11" font-size="11.9" text-anchor="end">0</text>
<line x1="198.60" y1="397.00" x2="198.60" y2="401.30" stroke="#000" stroke-width="1.44"/>
<line x1="223.80" y1="397.00" x2="223.80" y2="401.30" stroke="#000" stroke-width="1.44"/>
<line x1="249.20" y1="397.00" x2="249.20" y2="401.30" stroke="#000" stroke-width="1.44"/>
<text x="210.6" y="266.3" font-size="12.5" text-anchor="middle">Liver</text>
<text transform="translate(159.8 337.6) rotate(-90)" font-size="12.3" text-anchor="middle">Absolute NK1.1<tspan font-size="8.61" dy="-4.8">+</tspan><tspan dy="4.8">CD3e</tspan><tspan font-size="8.61" dy="-4.8">-</tspan><tspan dy="4.8"> (x10</tspan><tspan font-size="8.61" dy="-4.8">4</tspan><tspan dy="4.8">)</tspan></text>
<line x1="190.2" y1="355.5" x2="207.3" y2="355.5" stroke="#000" stroke-width="1.25"/>
<line x1="215.7" y1="358.7" x2="231.8" y2="358.7" stroke="#000" stroke-width="1.25"/>
<line x1="240.7" y1="353.0" x2="257.3" y2="353.0" stroke="#000" stroke-width="1.25"/>
<circle cx="198.7" cy="325.8" r="2.25" fill="#fff" stroke="#000" stroke-width="1.3"/>
<circle cx="195.3" cy="338.7" r="2.25" fill="#fff" stroke="#000" stroke-width="1.3"/>
<circle cx="202.0" cy="344.2" r="2.25" fill="#fff" stroke="#000" stroke-width="1.3"/>
<circle cx="202.0" cy="346.7" r="2.25" fill="#fff" stroke="#000" stroke-width="1.3"/>
<circle cx="195.3" cy="351.3" r="2.25" fill="#fff" stroke="#000" stroke-width="1.3"/>
<circle cx="193.5" cy="358.7" r="2.25" fill="#fff" stroke="#000" stroke-width="1.3"/>
<circle cx="203.5" cy="359.2" r="2.25" fill="#fff" stroke="#000" stroke-width="1.3"/>
<circle cx="196.3" cy="359.7" r="2.25" fill="#fff" stroke="#000" stroke-width="1.3"/>
<circle cx="201.0" cy="361.7" r="2.25" fill="#fff" stroke="#000" stroke-width="1.3"/>
<circle cx="198.7" cy="365.0" r="2.25" fill="#fff" stroke="#000" stroke-width="1.3"/>
<circle cx="198.7" cy="373.0" r="2.25" fill="#fff" stroke="#000" stroke-width="1.3"/>
<circle cx="198.7" cy="383.3" r="2.25" fill="#fff" stroke="#000" stroke-width="1.3"/>
<circle cx="224.0" cy="316.7" r="2.25" fill="#fff" stroke="#000" stroke-width="1.3"/>
<circle cx="224.0" cy="335.3" r="2.25" fill="#fff" stroke="#000" stroke-width="1.3"/>
<circle cx="219.0" cy="346.2" r="2.25" fill="#fff" stroke="#000" stroke-width="1.3"/>
<circle cx="229.0" cy="348.0" r="2.25" fill="#fff" stroke="#000" stroke-width="1.3"/>
<circle cx="224.0" cy="350.8" r="2.25" fill="#fff" stroke="#000" stroke-width="1.3"/>
<circle cx="226.8" cy="351.3" r="2.25" fill="#fff" stroke="#000" stroke-width="1.3"/>
<circle cx="229.0" cy="354.2" r="2.25" fill="#fff" stroke="#000" stroke-width="1.3"/>
<circle cx="219.0" cy="355.8" r="2.25" fill="#fff" stroke="#000" stroke-width="1.3"/>
<circle cx="224.0" cy="358.3" r="2.25" fill="#fff" stroke="#000" stroke-width="1.3"/>
<circle cx="219.0" cy="360.0" r="2.25" fill="#fff" stroke="#000" stroke-width="1.3"/>
<circle cx="229.0" cy="360.8" r="2.25" fill="#fff" stroke="#000" stroke-width="1.3"/>
<circle cx="224.0" cy="366.3" r="2.25" fill="#fff" stroke="#000" stroke-width="1.3"/>
<circle cx="220.5" cy="375.3" r="2.25" fill="#fff" stroke="#000" stroke-width="1.3"/>
<circle cx="227.3" cy="376.3" r="2.25" fill="#fff" stroke="#000" stroke-width="1.3"/>
<circle cx="227.3" cy="388.3" r="2.25" fill="#fff" stroke="#000" stroke-width="1.3"/>
<circle cx="220.5" cy="390.0" r="2.25" fill="#fff" stroke="#000" stroke-width="1.3"/>
<circle cx="249.0" cy="295.5" r="2.95" fill="#000"/>
<circle cx="249.0" cy="315.5" r="2.95" fill="#000"/>
<circle cx="245.7" cy="342.0" r="2.95" fill="#000"/>
<circle cx="252.7" cy="343.8" r="2.95" fill="#000"/>
<circle cx="249.0" cy="352.5" r="2.95" fill="#000"/>
<circle cx="245.7" cy="361.7" r="2.95" fill="#000"/>
<circle cx="244.3" cy="365.0" r="2.95" fill="#000"/>
<circle cx="252.7" cy="365.0" r="2.95" fill="#000"/>
<circle cx="249.0" cy="367.5" r="2.95" fill="#000"/>
<circle cx="252.7" cy="370.0" r="2.95" fill="#000"/>
<circle cx="245.7" cy="375.3" r="2.95" fill="#000"/>
<g transform="translate(192.75 420.85) rotate(-45)"><text font-size="12.6" text-anchor="end">SHIP</text><text x="0.90" y="-5.2" font-size="9.07" style="stroke-width:0.6px">+</text><text x="5.95" y="-4.2" font-size="10.89" style="stroke-width:0.35px" transform="rotate(22 7.46 -8.19)">/</text><text x="8.72" y="-5.2" font-size="9.07" style="stroke-width:0.6px">+</text></g>
<g transform="translate(217.95 420.85) rotate(-45)"><text font-size="12.6" text-anchor="end">SHIP</text><text x="0.00" y="-5.2" font-size="9.07" style="stroke-width:0.6px">+</text><text x="5.05" y="-4.2" font-size="10.89" style="stroke-width:0.35px" transform="rotate(22 6.56 -8.19)">/</text><text x="7.82" y="-4.6000000000000005" font-size="9.07" style="stroke-width:0.6px">−</text></g>
<g transform="translate(243.35 420.85) rotate(-45)"><text font-size="12.6" text-anchor="end">SHIP</text><text x="-1.60" y="-4.6000000000000005" font-size="9.07" style="stroke-width:0.6px">−</text><text x="3.45" y="-4.2" font-size="10.89" style="stroke-width:0.35px" transform="rotate(22 4.96 -8.19)">/</text><text x="6.22" y="-4.6000000000000005" font-size="9.07" style="stroke-width:0.6px">−</text></g>
<path d="M310.55 283.00V397.00H385.80" fill="none" stroke="#000" stroke-width="1.6" stroke-linejoin="miter"/>
<line x1="306.55" y1="283.80" x2="310.55" y2="283.80" stroke="#000" stroke-width="1.44"/>
<text x="305.50" y="287.91" font-size="11.9" text-anchor="end">15</text>
<line x1="306.55" y1="321.50" x2="310.55" y2="321.50" stroke="#000" stroke-width="1.44"/>
<text x="305.50" y="325.61" font-size="11.9" text-anchor="end">10</text>
<line x1="306.55" y1="359.20" x2="310.55" y2="359.20" stroke="#000" stroke-width="1.44"/>
<text x="305.50" y="363.31" font-size="11.9" text-anchor="end">5</text>
<line x1="306.55" y1="397.00" x2="310.55" y2="397.00" stroke="#000" stroke-width="1.44"/>
<text x="305.50" y="401.11" font-size="11.9" text-anchor="end">0</text>
<line x1="323.00" y1="397.00" x2="323.00" y2="401.30" stroke="#000" stroke-width="1.44"/>
<line x1="347.80" y1="397.00" x2="347.80" y2="401.30" stroke="#000" stroke-width="1.44"/>
<line x1="372.60" y1="397.00" x2="372.60" y2="401.30" stroke="#000" stroke-width="1.44"/>
<text x="335.0" y="267.0" font-size="12.5" text-anchor="middle">BM</text>
<text transform="translate(284.0 337.8) rotate(-90)" font-size="12.3" text-anchor="middle">Absolute NK1.1<tspan font-size="8.61" dy="-4.8">+</tspan><tspan dy="4.8">CD3e</tspan><tspan font-size="8.61" dy="-4.8">-</tspan><tspan dy="4.8"> (x10</tspan><tspan font-size="8.61" dy="-4.8">5</tspan><tspan dy="4.8">)</tspan></text>
<line x1="314.7" y1="372.5" x2="331.0" y2="372.5" stroke="#000" stroke-width="1.25"/>
<line x1="339.7" y1="355.0" x2="356.3" y2="355.0" stroke="#000" stroke-width="1.25"/>
<line x1="365.2" y1="368.0" x2="381.8" y2="368.0" stroke="#000" stroke-width="1.25"/>
<circle cx="326.3" cy="357.5" r="2.25" fill="#fff" stroke="#000" stroke-width="1.3"/>
<circle cx="319.7" cy="363.7" r="2.25" fill="#fff" stroke="#000" stroke-width="1.3"/>
<circle cx="318.0" cy="372.0" r="2.25" fill="#fff" stroke="#000" stroke-width="1.3"/>
<circle cx="327.7" cy="371.7" r="2.25" fill="#fff" stroke="#000" stroke-width="1.3"/>
<circle cx="323.0" cy="375.0" r="2.25" fill="#fff" stroke="#000" stroke-width="1.3"/>
<circle cx="318.0" cy="376.7" r="2.25" fill="#fff" stroke="#000" stroke-width="1.3"/>
<circle cx="327.7" cy="378.0" r="2.25" fill="#fff" stroke="#000" stroke-width="1.3"/>
<circle cx="323.0" cy="382.5" r="2.25" fill="#fff" stroke="#000" stroke-width="1.3"/>
<circle cx="344.8" cy="319.2" r="2.25" fill="#fff" stroke="#000" stroke-width="1.3"/>
<circle cx="351.5" cy="322.2" r="2.25" fill="#fff" stroke="#000" stroke-width="1.3"/>
<circle cx="348.2" cy="344.2" r="2.25" fill="#fff" stroke="#000" stroke-width="1.3"/>
<circle cx="353.2" cy="347.5" r="2.25" fill="#fff" stroke="#000" stroke-width="1.3"/>
<circle cx="343.2" cy="352.5" r="2.25" fill="#fff" stroke="#000" stroke-width="1.3"/>
<circle cx="346.8" cy="353.7" r="2.25" fill="#fff" stroke="#000" stroke-width="1.3"/>
<circle cx="350.7" cy="353.3" r="2.25" fill="#fff" stroke="#000" stroke-width="1.3"/>
<circle cx="348.2" cy="366.7" r="2.25" fill="#fff" stroke="#000" stroke-width="1.3"/>
<circle cx="353.2" cy="372.3" r="2.25" fill="#fff" stroke="#000" stroke-width="1.3"/>
<circle cx="343.2" cy="374.5" r="2.25" fill="#fff" stroke="#000" stroke-width="1.3"/>
<circle cx="348.2" cy="375.3" r="2.25" fill="#fff" stroke="#000" stroke-width="1.3"/>
<circle cx="348.2" cy="382.8" r="2.25" fill="#fff" stroke="#000" stroke-width="1.3"/>
<circle cx="373.5" cy="313.7" r="2.95" fill="#000"/>
<circle cx="373.5" cy="330.3" r="2.95" fill="#000"/>
<circle cx="373.5" cy="349.8" r="2.95" fill="#000"/>
<circle cx="376.8" cy="354.6" r="2.95" fill="#000"/>
<circle cx="369.8" cy="361.3" r="2.95" fill="#000"/>
<circle cx="368.3" cy="384.4" r="2.95" fill="#000"/>
<circle cx="378.4" cy="384.1" r="2.95" fill="#000"/>
<circle cx="373.3" cy="385.2" r="2.95" fill="#000"/>
<circle cx="370.5" cy="387.8" r="2.95" fill="#000"/>
<circle cx="376.0" cy="388.0" r="2.95" fill="#000"/>
<circle cx="371.3" cy="392.5" r="2.95" fill="#000"/>
<g transform="translate(317.15 420.85) rotate(-45)"><text font-size="12.6" text-anchor="end">SHIP</text><text x="0.90" y="-5.2" font-size="9.07" style="stroke-width:0.6px">+</text><text x="5.95" y="-4.2" font-size="10.89" style="stroke-width:0.35px" transform="rotate(22 7.46 -8.19)">/</text><text x="8.72" y="-5.2" font-size="9.07" style="stroke-width:0.6px">+</text></g>
<g transform="translate(341.95 420.85) rotate(-45)"><text font-size="12.6" text-anchor="end">SHIP</text><text x="0.00" y="-5.2" font-size="9.07" style="stroke-width:0.6px">+</text><text x="5.05" y="-4.2" font-size="10.89" style="stroke-width:0.35px" transform="rotate(22 6.56 -8.19)">/</text><text x="7.82" y="-4.6000000000000005" font-size="9.07" style="stroke-width:0.6px">−</text></g>
<g transform="translate(366.75 420.85) rotate(-45)"><text font-size="12.6" text-anchor="end">SHIP</text><text x="-1.60" y="-4.6000000000000005" font-size="9.07" style="stroke-width:0.6px">−</text><text x="3.45" y="-4.2" font-size="10.89" style="stroke-width:0.35px" transform="rotate(22 4.96 -8.19)">/</text><text x="6.22" y="-4.6000000000000005" font-size="9.07" style="stroke-width:0.6px">−</text></g>
<path d="M437.90 281.68V397.60H513.80" fill="none" stroke="#000" stroke-width="1.05" stroke-linejoin="miter"/>
<line x1="433.90" y1="282.20" x2="437.90" y2="282.20" stroke="#000" stroke-width="0.95"/>
<text x="432.85" y="286.31" font-size="11.9" text-anchor="end">3</text>
<line x1="433.90" y1="320.70" x2="437.90" y2="320.70" stroke="#000" stroke-width="0.95"/>
<text x="432.85" y="324.81" font-size="11.9" text-anchor="end">2</text>
<line x1="433.90" y1="359.10" x2="437.90" y2="359.10" stroke="#000" stroke-width="0.95"/>
<text x="432.85" y="363.21" font-size="11.9" text-anchor="end">1</text>
<line x1="433.90" y1="397.60" x2="437.90" y2="397.60" stroke="#000" stroke-width="0.95"/>
<text x="432.85" y="401.71" font-size="11.9" text-anchor="end">0</text>
<line x1="457.00" y1="397.60" x2="457.00" y2="401.90" stroke="#000" stroke-width="0.95"/>
<line x1="494.50" y1="397.60" x2="494.50" y2="401.90" stroke="#000" stroke-width="0.95"/>
<text x="465.3" y="265.5" font-size="12.5" text-anchor="middle">Blood</text>
<text transform="translate(418.8 338.2) rotate(-90)" font-size="12.3" text-anchor="middle">Absolute NK1.1<tspan font-size="8.61" dy="-4.8">+</tspan><tspan dy="4.8">CD3e</tspan><tspan font-size="8.61" dy="-4.8">-</tspan><tspan dy="4.8"> (x10</tspan><tspan font-size="8.61" dy="-4.8">4</tspan><tspan dy="4.8">)</tspan></text>
<line x1="444.3" y1="320.5" x2="469.3" y2="320.5" stroke="#000" stroke-width="1.25"/>
<line x1="481.8" y1="384.2" x2="506.8" y2="384.2" stroke="#000" stroke-width="1.25"/>
<circle cx="457.0" cy="295.3" r="2.25" fill="#fff" stroke="#000" stroke-width="1.3"/>
<circle cx="457.0" cy="302.8" r="2.25" fill="#fff" stroke="#000" stroke-width="1.3"/>
<circle cx="457.0" cy="318.7" r="2.25" fill="#fff" stroke="#000" stroke-width="1.3"/>
<circle cx="457.0" cy="326.3" r="2.25" fill="#fff" stroke="#000" stroke-width="1.3"/>
<circle cx="457.0" cy="339.2" r="2.25" fill="#fff" stroke="#000" stroke-width="1.3"/>
<circle cx="457.0" cy="355.3" r="2.25" fill="#fff" stroke="#000" stroke-width="1.3"/>
<circle cx="491.0" cy="382.2" r="2.75" fill="#000"/>
<circle cx="498.0" cy="382.2" r="2.75" fill="#000"/>
<circle cx="487.5" cy="388.0" r="2.75" fill="#000"/>
<circle cx="501.7" cy="388.7" r="2.75" fill="#000"/>
<circle cx="494.7" cy="392.0" r="2.75" fill="#000"/>
<path d="M458.5 286.3V279.3H494.9V367.5" fill="none" stroke="#000" stroke-width="1.1"/>
<text x="477.7" y="279.8" font-size="8.6" font-weight="bold" text-anchor="middle" letter-spacing="0.55" style="stroke-width:0.2px">***</text>
<g transform="translate(451.15 421.45) rotate(-45)"><text font-size="12.6" text-anchor="end">SHIP</text><text x="0.90" y="-5.2" font-size="9.07" style="stroke-width:0.6px">+</text><text x="5.95" y="-4.2" font-size="10.89" style="stroke-width:0.35px" transform="rotate(22 7.46 -8.19)">/</text><text x="8.72" y="-5.2" font-size="9.07" style="stroke-width:0.6px">+</text></g>
<g transform="translate(488.65 421.45) rotate(-45)"><text font-size="12.6" text-anchor="end">SHIP</text><text x="-1.60" y="-4.6000000000000005" font-size="9.07" style="stroke-width:0.6px">−</text><text x="3.45" y="-4.2" font-size="10.89" style="stroke-width:0.35px" transform="rotate(22 4.96 -8.19)">/</text><text x="6.22" y="-4.6000000000000005" font-size="9.07" style="stroke-width:0.6px">−</text></g>
</svg>
</body>
</html>
